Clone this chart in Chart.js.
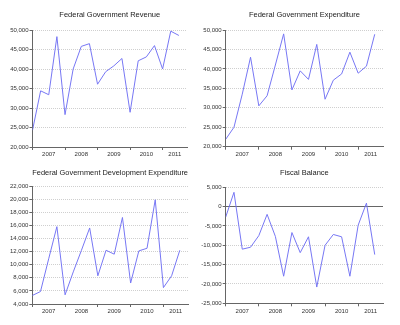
<!DOCTYPE html>
<html>
<head>
<meta charset="utf-8">
<script src="https://cdn.jsdelivr.net/npm/chart.js@4.4.1/dist/chart.umd.min.js"></script>
<style>
  body { margin: 0; background: #fff; width: 400px; height: 325px; position: relative; overflow: hidden; }
  .panel { position: absolute; }
</style>
</head>
<body>
<div class="panel" style="left:0;top:0;width:200px;height:162px"><canvas id="chart1"></canvas></div>
<div class="panel" style="left:200px;top:0;width:200px;height:162px"><canvas id="chart2"></canvas></div>
<div class="panel" style="left:0;top:160px;width:200px;height:165px"><canvas id="chart3"></canvas></div>
<div class="panel" style="left:200px;top:160px;width:200px;height:165px"><canvas id="chart4"></canvas></div>
<script>
// quarterly data, 2007Q1 - 2011Q3
const quarters = ['2007Q1','2007Q2','2007Q3','2007Q4','2008Q1','2008Q2','2008Q3','2008Q4',
  '2009Q1','2009Q2','2009Q3','2009Q4','2010Q1','2010Q2','2010Q3','2010Q4','2011Q1','2011Q2','2011Q3'];

const revenue = [24300, 34400, 33400, 48300, 28300, 40000, 45800, 46500, 36100, 39300,
  40800, 42700, 28900, 42100, 43100, 46000, 40000, 49700, 48600];
const expenditure = [21900, 25000, 33500, 43000, 30500, 33100, 41000, 49000, 34600, 39500,
  37300, 46300, 32200, 37100, 38700, 44300, 38900, 40700, 48900];
const development = [5300, 5900, 10900, 15800, 5400, 8900, 12200, 15600, 8300, 12200,
  11600, 17200, 7200, 12100, 12500, 19900, 6500, 8300, 12200];
const balance = [-2700, 3700, -11000, -10500, -7500, -2000, -7700, -18000, -6700, -11900,
  -7800, -20800, -10000, -7200, -7800, -18000, -4800, 900, -12400];

const titles = ['Federal Government Revenue', 'Federal Government Expenditure',
  'Federal Government Development Expenditure', 'Fiscal Balance'];

Chart.defaults.font.family = '"Liberation Sans", Arial, sans-serif';
Chart.defaults.color = '#333';

const X_MAX = quarters.length; // axis runs one quarter past the last point

// year boundaries and year label positions
const yearStarts = [];
quarters.forEach((q, i) => { if (q.endsWith('Q1')) yearStarts.push(i); });
const yearMids = yearStarts.map(s => (s + Math.min(s + 4, X_MAX)) / 2);
const yearNames = yearStarts.map(s => quarters[s].slice(0, 4));

function createChart(id, series, title, yMin, yMax, step, lay) {
  const ctx = document.getElementById(id);
  return new Chart(ctx, {
    type: 'line',
    data: {
      datasets: [{
        data: series.map((v, i) => ({ x: i, y: v })),
        borderColor: '#7777f4',
        borderWidth: 1,
        pointRadius: 0,
        tension: 0,
        fill: false
      }]
    },
    options: {
      responsive: true,
      maintainAspectRatio: false,
      animation: false,
      events: [],
      layout: { padding: { left: 0, right: lay.right, top: lay.top, bottom: 0 } },
      plugins: {
        legend: { display: false },
        tooltip: { enabled: false },
        title: {
          display: true,
          text: title,
          fullSize: false,
          color: '#222',
          font: { size: 7.5, weight: 'normal', lineHeight: 1.2 },
          padding: { top: lay.tTop, bottom: lay.tBottom }
        }
      },
      scales: {
        x: {
          type: 'linear',
          min: 0,
          max: X_MAX,
          afterBuildTicks: scale => {
            const vals = yearStarts.concat(yearMids).sort((a, b) => a - b);
            scale.ticks = vals.map(v => ({ value: v }));
          },
          afterFit: scale => { scale.height = lay.xh; },
          ticks: {
            autoSkip: false,
            maxRotation: 0,
            padding: 1,
            font: { size: 6 },
            color: '#333',
            callback: v => {
              const k = yearMids.indexOf(v);
              return k >= 0 ? yearNames[k] : '';
            }
          },
          grid: {
            drawOnChartArea: false,
            tickLength: 3,
            tickColor: c => (c.tick && yearStarts.includes(c.tick.value)) ? '#666' : 'rgba(0,0,0,0)',
            tickBorderDash: []
          },
          border: { display: true, color: '#666', width: 1 }
        },
        y: {
          min: yMin,
          max: yMax,
          afterFit: scale => { scale.width = lay.yw; },
          ticks: {
            stepSize: step,
            padding: 1,
            font: { size: 6 },
            color: '#333',
            callback: v => v.toLocaleString('en-US')
          },
          grid: {
            color: c => (c.tick && c.tick.value === 0) ? '#666' : '#cfcfcf',
            tickLength: 3,
            tickColor: '#666',
            tickBorderDash: []
          },
          border: {
            display: true,
            color: '#666',
            width: 1,
            dash: c => (c.tick && c.tick.value === 0) ? [] : [1, 1]
          }
        }
      }
    }
  });
}

createChart('chart1', revenue, titles[0], 20000, 50000, 5000,
  { right: 13, top: 0, tTop: 10.5, tBottom: 10.5, xh: 15, yw: 32.5 });
createChart('chart2', expenditure, titles[1], 20000, 50000, 5000,
  { right: 17, top: 0, tTop: 10.5, tBottom: 10.5, xh: 15.3, yw: 25.7 });
createChart('chart3', development, titles[2], 4000, 22000, 2000,
  { right: 12, top: 0, tTop: 8.5, tBottom: 8.5, xh: 21, yw: 32.3 });
createChart('chart4', balance, titles[3], -25000, 5000, 5000,
  { right: 17, top: 0, tTop: 8.5, tBottom: 9.8, xh: 21.7, yw: 25.7 });
</script>
</body>
</html>
